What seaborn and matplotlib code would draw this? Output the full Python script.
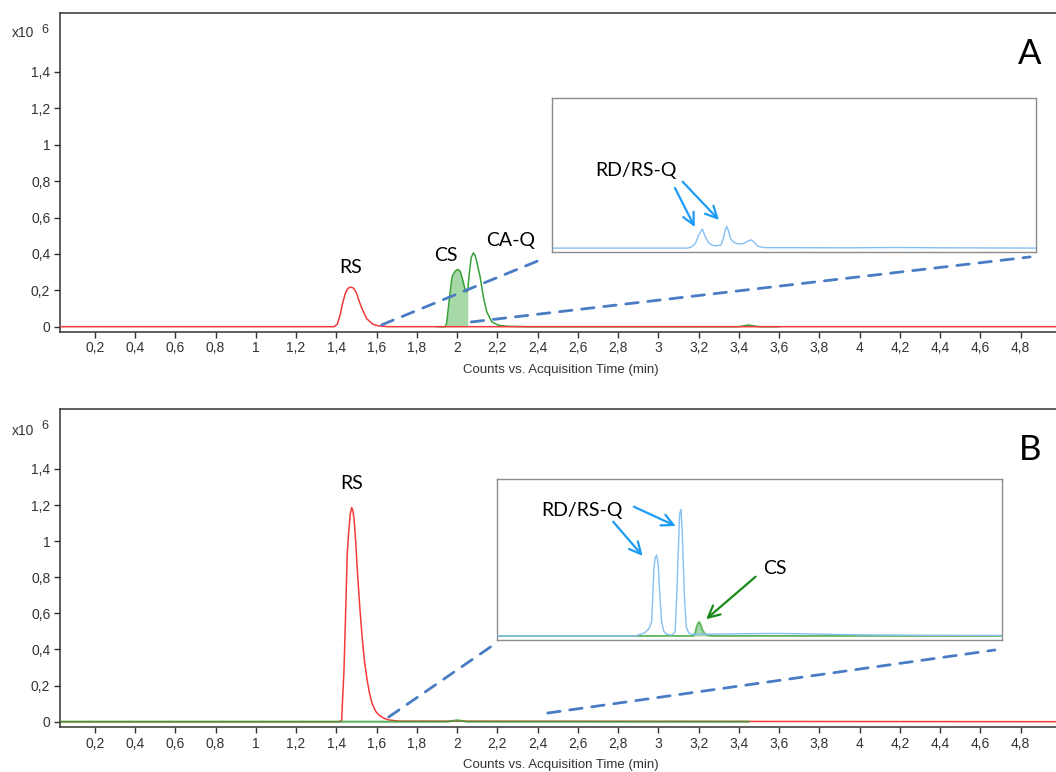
import numpy as np
import pandas as pd
import matplotlib
matplotlib.use("Agg")
import matplotlib.pyplot as plt
import seaborn as sns
from matplotlib.patches import ConnectionPatch
from matplotlib.ticker import FuncFormatter, FixedLocator

# ---------------- Panel A: main traces (time in min, counts x10^6) ----------------
a_rs_time = [0.03, 1.39, 1.405, 1.42, 1.43, 1.445, 1.457, 1.47, 1.485, 1.50, 1.51,
             1.525, 1.55, 1.58, 1.61, 1.66, 5.0]
a_rs_counts = [0, 0, 0.015, 0.07, 0.125, 0.185, 0.21, 0.218, 0.212, 0.185, 0.15,
               0.105, 0.045, 0.014, 0.004, 0, 0]

a_cs_time = [1.90, 1.94, 1.948, 1.955, 1.963, 1.975, 1.99, 2.003, 2.015, 2.027, 2.037,
             2.046, 2.053, 2.06, 2.07, 2.081, 2.09, 2.098, 2.114, 2.13, 2.147, 2.172,
             2.205, 2.25, 2.35, 3.40, 3.43, 3.45, 3.47, 3.50, 3.60]
a_cs_counts = [0, 0, 0.02, 0.09, 0.17, 0.275, 0.305, 0.315, 0.305, 0.26, 0.215,
               0.19, 0.2, 0.29, 0.38, 0.406, 0.39, 0.355, 0.275, 0.165, 0.082, 0.027,
               0.008, 0.002, 0, 0, 0.006, 0.009, 0.005, 0, 0]
a_cs_fill_end = 2.053

# ---------------- Panel B: main traces ----------------
b_rs_time = [0.03, 1.41, 1.426, 1.438, 1.446, 1.454, 1.462, 1.469, 1.476, 1.482, 1.488,
             1.496, 1.504, 1.516, 1.528, 1.540, 1.553, 1.565, 1.578, 1.595, 1.611,
             1.635, 1.66, 1.71, 5.0]
b_rs_counts = [0, 0, 0.005, 0.29, 0.6, 0.93, 1.06, 1.15, 1.186, 1.17, 1.12,
               1.0, 0.84, 0.64, 0.47, 0.33, 0.23, 0.155, 0.10, 0.058, 0.037,
               0.02, 0.01, 0.003, 0]

b_cs_time = [0.03, 1.95, 2.0, 2.05, 3.45]
b_cs_counts = [0, 0, 0.008, 0, 0]

# ---------------- Zoomed views (time in min, relative counts) ----------------
ia_rdrs_time = [1.62, 2.52, 2.545, 2.57, 2.595, 2.617, 2.635, 2.655, 2.68, 2.71, 2.74,
                2.755, 2.77, 2.779, 2.79, 2.805, 2.83, 2.86, 2.89, 2.915, 2.94, 2.96,
                2.985, 3.03, 3.6, 3.9, 4.2, 4.83]
ia_rdrs_counts = [0, 0, 0.008, 0.03, 0.09, 0.127, 0.08, 0.04, 0.02, 0.015, 0.02,
                  0.06, 0.125, 0.144, 0.115, 0.06, 0.035, 0.028, 0.03, 0.045, 0.055, 0.04,
                  0.012, 0.003, 0.002, 0.004, 0.002, 0]

ib_rdrs_time = [1.62, 2.50, 2.53, 2.56, 2.585, 2.603, 2.611, 2.618, 2.626, 2.635, 2.645,
                2.655, 2.666, 2.68, 2.70, 2.73, 2.752, 2.761, 2.771, 2.781, 2.79, 2.799,
                2.811, 2.823, 2.838, 2.86, 2.90, 3.0, 3.2, 3.4, 3.6, 3.8, 4.0, 4.4, 4.83]
ib_rdrs_counts = [0, 0, 0.01, 0.02, 0.045, 0.09, 0.272, 0.44, 0.5, 0.516, 0.45,
                  0.26, 0.09, 0.03, 0.01, 0.005, 0.025, 0.22, 0.5, 0.78, 0.807, 0.62,
                  0.26, 0.06, 0.02, 0.01, 0.01, 0.012, 0.014, 0.016, 0.013, 0.009, 0.006,
                  0.004, 0.003]

ib_cs_time = [1.62, 2.87, 2.88, 2.89, 2.90, 2.906, 2.915, 2.925, 2.94, 2.96, 2.99, 4.83]
ib_cs_counts = [0, 0, 0.02, 0.06, 0.085, 0.089, 0.07, 0.04, 0.015, 0.004, 0, 0]
ib_cs_fill_end = 2.99

x_ticks = [round(0.2 * i, 1) for i in range(1, 25)]
y_ticks = [round(0.2 * i, 1) for i in range(0, 8)]

# ---------------- styling ----------------
sns.set_theme(style="white")
plt.rcParams["font.family"] = ["Liberation Sans", "DejaVu Sans"]

RED = "#f23a3a"
GREEN = "#37a037"
BLUE = "#86bff2"
ARROW_BLUE = "#1e9cf5"
DASH = "#4a7cc4"
AXIS = "#333333"

W, H = 1056, 772
fig = plt.figure(figsize=(W / 100, H / 100), dpi=100)


def fx(px):
    return px / W


def fy(py):
    return 1 - py / H


def trace(ax, t, c, color, lw=1.1, z=2, alpha=1.0):
    df = pd.DataFrame({"time": t, "counts": c})
    sns.lineplot(data=df, x="time", y="counts", ax=ax, color=color, lw=lw,
                 estimator=None, sort=False, zorder=z, alpha=alpha)


def comma_fmt(v, _pos):
    return f"{round(v, 1):g}".replace(".", ",")


def style_main(ax, ylim):
    ax.set_xlim(0.027, 5.0)
    ax.set_ylim(*ylim)
    ax.xaxis.set_major_locator(FixedLocator(x_ticks))
    ax.yaxis.set_major_locator(FixedLocator(y_ticks))
    ax.xaxis.set_major_formatter(FuncFormatter(comma_fmt))
    ax.yaxis.set_major_formatter(FuncFormatter(comma_fmt))
    ax.tick_params(axis="both", direction="out", length=4, width=1, color=AXIS,
                   labelcolor=AXIS, labelsize=10, pad=3,
                   bottom=True, left=True)
    for side in ["left", "bottom", "top"]:
        ax.spines[side].set_visible(True)
        ax.spines[side].set_color(AXIS)
        ax.spines[side].set_linewidth(1.1)
    ax.spines["right"].set_visible(False)
    ax.set_xlabel("Counts vs. Acquisition Time (min)", fontsize=9.5, color=AXIS, labelpad=6)
    ax.set_ylabel("")
    ax.grid(False)


def style_inset(ax, ylim):
    ax.set_xlim(1.62, 4.83)
    ax.set_ylim(*ylim)
    ax.set_xticks([])
    ax.set_yticks([])
    ax.set_xlabel("")
    ax.set_ylabel("")
    ax.set_facecolor("white")
    for s in ax.spines.values():
        s.set_visible(True)
        s.set_color("#8c8c8c")
        s.set_linewidth(1.0)


label_font = dict(family=["Lato", "DejaVu Sans"], color="black")

# ---------------- Panel A ----------------
axA = fig.add_axes([fx(60), fy(331.7), fx(1061 - 60), (331.7 - 13) / H])
trace(axA, a_cs_time, a_cs_counts, GREEN, z=2)
cs_t = np.array(a_cs_time)
cs_c = np.array(a_cs_counts)
m = (cs_t >= 1.94) & (cs_t <= a_cs_fill_end)
axA.fill_between(cs_t[m], 0, cs_c[m], color="#6dbf6d", alpha=0.6, lw=0, zorder=1)
trace(axA, a_rs_time, a_rs_counts, RED, z=3)
style_main(axA, (-0.0275, 1.724))
axA.text(1.472, 0.328, "RS", fontsize=14, ha="center", va="center", **label_font)
axA.text(1.943, 0.394, "CS", fontsize=14, ha="center", va="center", **label_font)
axA.text(2.264, 0.471, "CA-Q", fontsize=14, ha="center", va="center", **label_font)
fig.text(fx(1030), fy(54), "A", fontsize=25, ha="center", va="center", **label_font)

fig.text(fx(12), fy(37), "x10", fontsize=10, color=AXIS, ha="left", va="baseline")
fig.text(fx(41), fy(33), "6", fontsize=9, color=AXIS, ha="left", va="baseline")

insA = fig.add_axes([fx(552), fy(252), fx(1036 - 552), (252 - 98) / H])
insA.set_zorder(5)
trace(insA, ia_rdrs_time, ia_rdrs_counts, BLUE, lw=1.0)
style_inset(insA, (-0.026, 1.0))
insA.text(0.1736, 0.532, "RD/RS-Q", transform=insA.transAxes, fontsize=14,
          ha="center", va="center", **label_font)
arrow_kw = dict(arrowstyle="->,head_length=0.7,head_width=0.35", lw=1.6,
                shrinkA=0, shrinkB=0)
insA.annotate("", xy=(0.295, 0.162), xytext=(0.254, 0.416), xycoords="axes fraction",
              textcoords="axes fraction", arrowprops=dict(color=ARROW_BLUE, **arrow_kw))
insA.annotate("", xy=(0.345, 0.208), xytext=(0.270, 0.456), xycoords="axes fraction",
              textcoords="axes fraction", arrowprops=dict(color=ARROW_BLUE, **arrow_kw))

for (xa, ya), (xb, yb) in [((1.625, 0.01), (-0.0145, -0.039)),
                           ((2.07, 0.026), (0.988, -0.032))]:
    con = ConnectionPatch(xyA=(xa, ya), coordsA=axA.transData,
                          xyB=(xb, yb), coordsB=insA.transAxes,
                          color=DASH, lw=2.0, linestyle=(0, (4.5, 3.5)), zorder=6)
    fig.add_artist(con)

# ---------------- Panel B ----------------
axB = fig.add_axes([fx(60), fy(727.3), fx(1061 - 60), (727.3 - 409) / H])
trace(axB, b_rs_time, b_rs_counts, RED, z=2)
trace(axB, b_cs_time, b_cs_counts, GREEN, lw=1.5, z=3, alpha=0.8)
style_main(axB, (-0.031, 1.732))
axB.text(1.477, 1.322, "RS", fontsize=14, ha="center", va="center", **label_font)
fig.text(fx(1030), fy(450), "B", fontsize=25, ha="center", va="center", **label_font)

fig.text(fx(12), fy(435), "x10", fontsize=10, color=AXIS, ha="left", va="baseline")
fig.text(fx(41), fy(429), "6", fontsize=9, color=AXIS, ha="left", va="baseline")

insB = fig.add_axes([fx(497), fy(640), fx(1002 - 497), (640 - 479) / H])
insB.set_zorder(5)
ibt = np.array(ib_cs_time)
ibc = np.array(ib_cs_counts)
mb = (ibt >= 2.87) & (ibt <= ib_cs_fill_end)
insB.fill_between(ibt[mb], 0, ibc[mb], color="#6dbf6d", alpha=0.6, lw=0, zorder=1)
trace(insB, ib_cs_time, ib_cs_counts, "#5db55d", lw=1.3, z=2)
trace(insB, ib_rdrs_time, ib_rdrs_counts, BLUE, lw=1.0, z=3)
style_inset(insB, (-0.026, 1.0))
insB.text(0.168, 0.807, "RD/RS-Q", transform=insB.transAxes, fontsize=14,
          ha="center", va="center", **label_font)
insB.text(0.550, 0.447, "CS", transform=insB.transAxes, fontsize=14,
          ha="center", va="center", **label_font)
insB.annotate("", xy=(0.2885, 0.522), xytext=(0.230, 0.735), xycoords="axes fraction",
              textcoords="axes fraction", arrowprops=dict(color=ARROW_BLUE, **arrow_kw))
insB.annotate("", xy=(0.354, 0.708), xytext=(0.271, 0.828), xycoords="axes fraction",
              textcoords="axes fraction", arrowprops=dict(color=ARROW_BLUE, **arrow_kw))
insB.annotate("", xy=(0.414, 0.129), xytext=(0.512, 0.393), xycoords="axes fraction",
              textcoords="axes fraction", arrowprops=dict(color="#1a8a1a", **arrow_kw))

for (xa, ya), (xb, yb) in [((1.66, 0.026), (-0.01, -0.037)),
                           ((2.45, 0.048), (0.986, -0.062))]:
    con = ConnectionPatch(xyA=(xa, ya), coordsA=axB.transData,
                          xyB=(xb, yb), coordsB=insB.transAxes,
                          color=DASH, lw=2.0, linestyle=(0, (4.5, 3.5)), zorder=6)
    fig.add_artist(con)

fig.savefig("out.png", dpi=100, facecolor="white")
